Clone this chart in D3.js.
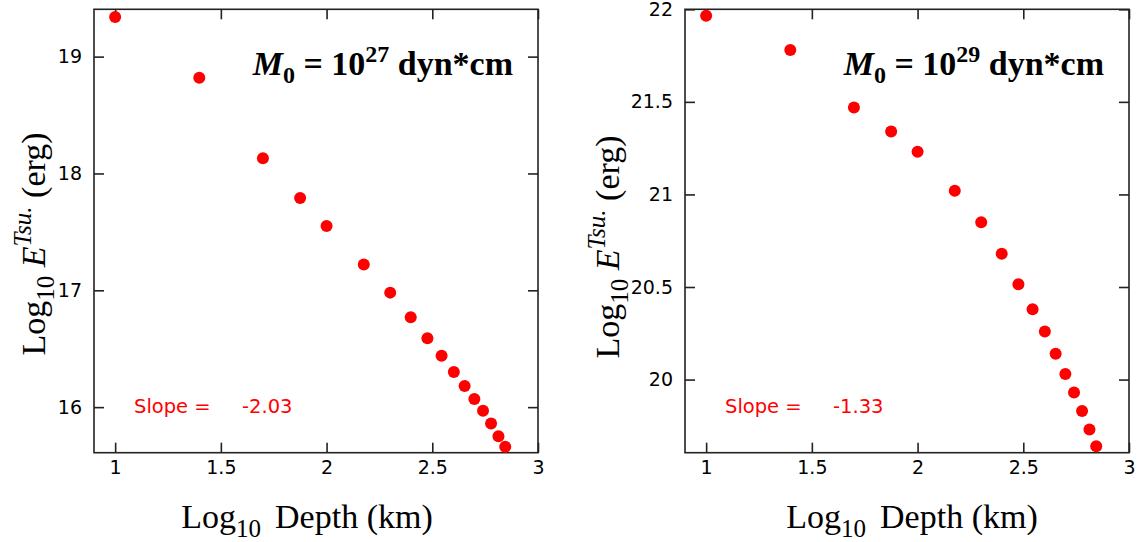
<!DOCTYPE html>
<html>
<head>
<meta charset="utf-8">
<style>
  body { margin: 0; background: #fff; }
  svg { display: block; }
  .tick text { font-family: "DejaVu Sans", sans-serif; font-size: 19px; fill: #000; }
  .tick line { stroke: #222; stroke-width: 1.6; }
  .domain { display: none; }
  .serif { font-family: "Liberation Serif", "Times New Roman", serif; }
</style>
</head>
<body>
<svg width="1137" height="542"></svg>
<script src="https://d3js.org/d3.v7.min.js"></script>
<script>

  // log10 of depth in km (10, 25, 50, 75, 100, 150 ... 700 km)
  var depthLog = [1, 1.398, 1.699, 1.875, 2, 2.176, 2.301, 2.398, 2.477, 2.544, 2.602, 2.653, 2.699, 2.740, 2.778, 2.813, 2.845];

  // log10 tsunami energy (erg) for the two seismic moments
  var energyM27 = [19.34, 18.82, 18.13, 17.79, 17.55, 17.22, 16.98, 16.77, 16.59, 16.44, 16.30, 16.18, 16.07, 15.97, 15.86, 15.75, 15.66];
  var energyM29 = [21.965, 21.78, 21.47, 21.34, 21.23, 21.02, 20.85, 20.68, 20.515, 20.38, 20.26, 20.14, 20.03, 19.93, 19.83, 19.73, 19.64];

  var xTicks = [1, 1.5, 2, 2.5, 3];
  var yTicksM27 = [16, 17, 18, 19];
  var yTicksM29 = [20, 20.5, 21, 21.5, 22];

  var exponents = ["27", "29"];
  var slopes = ["-2.03", "-1.33"];

  var svg = d3.select("svg");
  svg.append("rect").attr("width", 1137).attr("height", 542).attr("fill", "#fff");

  var plotTop = 9.3, plotBottom = 452.7, plotW = 444;

  function drawPanel(p) {
    var x = d3.scaleLinear().domain([0.9, 3]).range([p.left, p.left + plotW]);
    var y = d3.scaleLinear().domain(p.yDomain).range([plotBottom, plotTop]);
    var g = svg.append("g");

    g.append("g")
      .attr("transform", "translate(0," + plotBottom + ")")
      .call(d3.axisBottom(x).tickValues(xTicks).tickSize(-10).tickPadding(8).tickFormat(d3.format("")));
    g.append("g")
      .attr("transform", "translate(0," + plotTop + ")")
      .call(d3.axisTop(x).tickValues(xTicks).tickSize(-10).tickFormat(""));
    g.append("g")
      .attr("transform", "translate(" + p.left + ",0)")
      .call(d3.axisLeft(y).tickValues(p.yTicks).tickSize(-10).tickPadding(12).tickFormat(d3.format("")));
    g.append("g")
      .attr("transform", "translate(" + (p.left + plotW) + ",0)")
      .call(d3.axisRight(y).tickValues(p.yTicks).tickSize(-10).tickFormat(""));

    g.append("rect")
      .attr("x", p.left).attr("y", plotTop)
      .attr("width", plotW).attr("height", plotBottom - plotTop)
      .attr("fill", "none").attr("stroke", "#222").attr("stroke-width", 1.6);

    g.append("g").selectAll("circle")
      .data(depthLog)
      .enter().append("circle")
      .attr("cx", function (d) { return x(d); })
      .attr("cy", function (d, i) { return y(p.values[i]); })
      .attr("r", 6)
      .attr("fill", "#ff0000");

    // M0 annotation
    var ann = g.append("text").attr("class", "serif")
      .attr("x", p.left + 419).attr("y", 75)
      .attr("text-anchor", "end")
      .attr("font-size", 34).attr("font-weight", "bold");
    ann.append("tspan").attr("font-style", "italic").text("M");
    ann.append("tspan").attr("font-size", 24).attr("dy", 8).text("0");
    ann.append("tspan").attr("dy", -8).text(" = 10");
    ann.append("tspan").attr("font-size", 24).attr("dy", -13).text(p.exponent);
    ann.append("tspan").attr("dy", 13).text(" dyn*cm");

    // slope annotation
    g.append("text")
      .attr("x", p.left + 40).attr("y", 413)
      .attr("font-family", "DejaVu Sans, sans-serif").attr("font-size", 19.5)
      .attr("fill", "#ff0000")
      .text("Slope =");
    g.append("text")
      .attr("x", p.left + 148).attr("y", 413)
      .attr("font-family", "DejaVu Sans, sans-serif").attr("font-size", 19.5)
      .attr("fill", "#ff0000")
      .text(p.slope);

    // x title
    var xt = g.append("text").attr("class", "serif")
      .attr("x", p.xTitleX).attr("y", 528)
      .attr("text-anchor", "middle").attr("font-size", 34);
    xt.append("tspan").text("Log");
    xt.append("tspan").attr("font-size", 25).attr("dy", 9).text("10");
    xt.append("tspan").attr("dy", -9).attr("dx", 14).text("Depth (km)");

    // y title
    var yt = g.append("text").attr("class", "serif")
      .attr("transform", "translate(" + p.yTitleX + "," + p.yTitleY + ") rotate(-90)")
      .attr("text-anchor", "middle").attr("font-size", 34);
    yt.append("tspan").text("Log");
    yt.append("tspan").attr("font-size", 25).attr("dy", 9).text("10");
    yt.append("tspan").attr("dy", -9).attr("font-style", "italic").text(" E");
    yt.append("tspan").attr("font-size", 25).attr("dy", -14).attr("font-style", "italic").text("Tsu.");
    yt.append("tspan").attr("dy", 14).text(" (erg)");
  }

  drawPanel({left: 94, yDomain: [15.61, 19.405], yTicks: yTicksM27, values: energyM27,
    exponent: exponents[0], slope: slopes[0], xTitleX: 307, yTitleX: 45, yTitleY: 244});
  drawPanel({left: 685, yDomain: [19.605, 22], yTicks: yTicksM29, values: energyM29,
    exponent: exponents[1], slope: slopes[1], xTitleX: 912, yTitleX: 619, yTitleY: 247});

</script>
</body>
</html>
